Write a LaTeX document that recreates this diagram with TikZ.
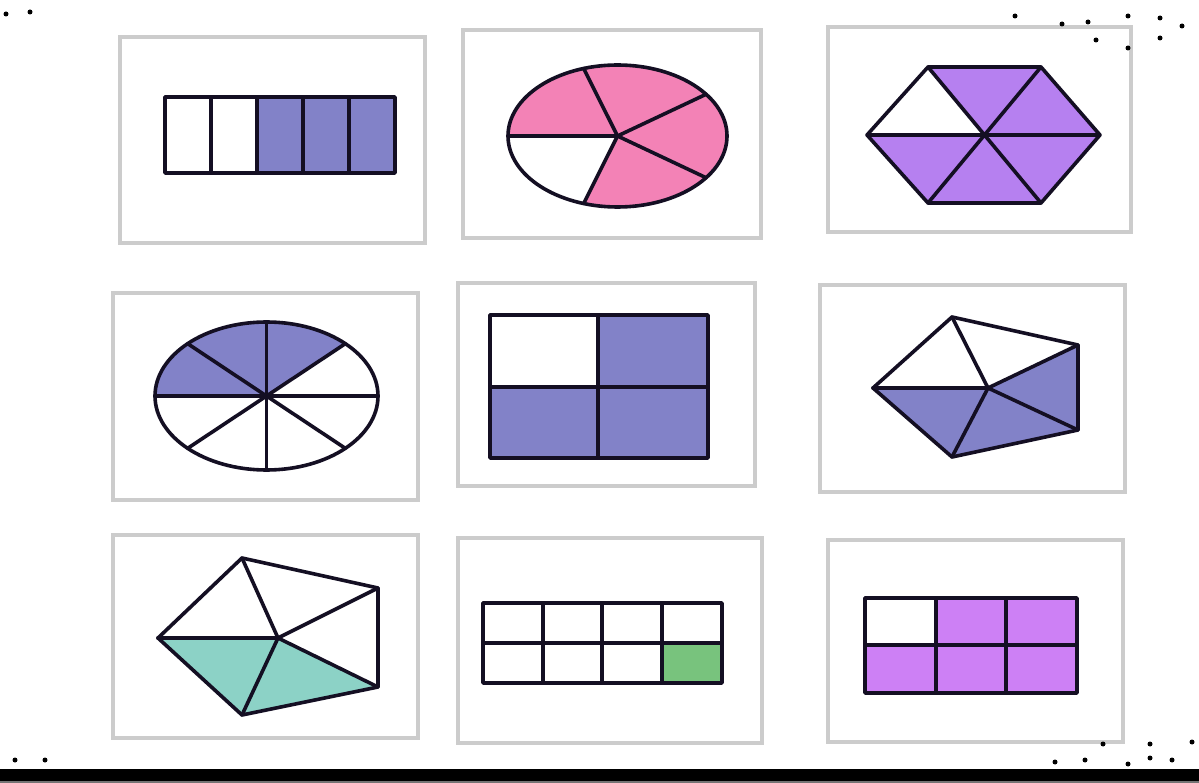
\documentclass[tikz,border=0pt]{standalone}
\usetikzlibrary{calc}
\definecolor{fblue}{RGB}{130,130,200}
\definecolor{fpink}{RGB}{243,130,182}
\definecolor{fpurple}{RGB}{182,128,240}
\definecolor{fmagenta}{RGB}{205,128,245}
\definecolor{fteal}{RGB}{140,210,198}
\definecolor{fgreen}{RGB}{120,195,125}
\definecolor{fline}{RGB}{20,15,35}
\begin{document}
\begin{tikzpicture}[x=1pt,y=-1pt,
  frame/.style={draw=black!20,line width=3.5pt},
  edge/.style={draw=fline,line width=3.6pt,line join=round,line cap=round},
  speck/.style={fill=black}]
\useasboundingbox (0,0) rectangle (1199,783);
\fill[white] (0,0) rectangle (1199,783);

% frames
\draw[frame] (120,37) rectangle (425,243);
\draw[frame] (463,30) rectangle (761,238);
\draw[frame] (828,27) rectangle (1131,232);
\draw[frame] (113,293) rectangle (418,500);
\draw[frame] (458,283) rectangle (755,486);
\draw[frame] (820,285) rectangle (1125,492);
\draw[frame] (113,535) rectangle (418,738);
\draw[frame] (458,538) rectangle (762,743);
\draw[frame] (828,540) rectangle (1123,742);

% 1: bar of five, three shaded
\fill[fblue] (257,97) rectangle (395,173);
\draw[edge] (165,97) rectangle (395,173);
\foreach \x in {211,257,303,349} \draw[edge] (\x,97) -- (\x,173);

% 2: ellipse in five, four shaded
\coordinate (c2) at (617.5,136);
\fill[fpink] (c2) ellipse[x radius=109.5,y radius=71];
\fill[white] (c2) -- ($(c2)+(108:109.5 and 71)$) arc[start angle=108,end angle=180,x radius=109.5,y radius=71] -- cycle;
\foreach \a in {180,108,36,-36,-108} \draw[edge] (c2) -- ($(c2)+(\a:109.5 and 71)$);
\draw[edge] (c2) ellipse[x radius=109.5,y radius=71];

% 3: hexagon in six, five shaded
\coordinate (hL) at (867,135); \coordinate (hTL) at (928,67); \coordinate (hTR) at (1041,67);
\coordinate (hR) at (1100,135); \coordinate (hBR) at (1041,203); \coordinate (hBL) at (928,203);
\coordinate (hC) at (984,135);
\fill[fpurple] (hL) -- (hTL) -- (hTR) -- (hR) -- (hBR) -- (hBL) -- cycle;
\fill[white] (hL) -- (hTL) -- (hC) -- cycle;
\draw[edge] (hL) -- (hR) (hTL) -- (hBR) (hTR) -- (hBL);
\draw[edge] (hL) -- (hTL) -- (hTR) -- (hR) -- (hBR) -- (hBL) -- cycle;

% 4: ellipse in eight, three shaded
\coordinate (c4) at (266.5,396);
\fill[fblue] (c4) -- ($(c4)+(-180:111.5 and 74)$) arc[start angle=-180,end angle=-45,x radius=111.5,y radius=74] -- cycle;
\foreach \a in {0,45,...,315} \draw[edge] (c4) -- ($(c4)+(\a:111.5 and 74)$);
\draw[edge] (c4) ellipse[x radius=111.5,y radius=74];

% 5: rectangle in four, three shaded
\fill[fblue] (490,315) rectangle (708,458);
\fill[white] (490,315) rectangle (598,387);
\draw[edge] (490,315) rectangle (708,458);
\draw[edge] (598,315) -- (598,458) (490,387) -- (708,387);

% 6: pentagon in five, three shaded
\coordinate (pL) at (873,388); \coordinate (pT) at (952,317); \coordinate (pRT) at (1078,345);
\coordinate (pRB) at (1078,430); \coordinate (pB) at (952,457); \coordinate (pC) at (988,388);
\fill[fblue] (pL) -- (pC) -- (pRT) -- (pRB) -- (pB) -- cycle;
\foreach \v in {pL,pT,pRT,pRB,pB} \draw[edge] (pC) -- (\v);
\draw[edge] (pL) -- (pT) -- (pRT) -- (pRB) -- (pB) -- cycle;

% 7: pentagon in five, two shaded
\coordinate (qL) at (158,638); \coordinate (qT) at (242,558); \coordinate (qRT) at (378,588);
\coordinate (qRB) at (378,687); \coordinate (qB) at (242,715); \coordinate (qC) at (278,638);
\fill[fteal] (qL) -- (qC) -- (qRB) -- (qB) -- cycle;
\foreach \v in {qL,qT,qRT,qRB,qB} \draw[edge] (qC) -- (\v);
\draw[edge] (qL) -- (qT) -- (qRT) -- (qRB) -- (qB) -- cycle;

% 8: grid of eight, one shaded
\fill[fgreen] (662,643) rectangle (722,683);
\draw[edge] (483,603) rectangle (722,683);
\foreach \x in {543,602,662} \draw[edge] (\x,603) -- (\x,683);
\draw[edge] (483,643) -- (722,643);

% 9: grid of six, five shaded
\fill[fmagenta] (865,598) rectangle (1077,693);
\fill[white] (865,598) rectangle (936,645);
\draw[edge] (865,598) rectangle (1077,693);
\foreach \x in {936,1006} \draw[edge] (\x,598) -- (\x,693);
\draw[edge] (865,645) -- (1077,645);

% bottom band
\fill[black] (0,769) rectangle (1199,781);
\fill[black!55] (0,781) rectangle (1199,783);

% specks
\foreach \p in {(6,14),(30,12),(1015,16),(1062,24),(1088,22),(1128,16),(1160,18),(1182,26),(1096,40),(1128,48),(1160,38),
  (15,760),(45,760),(1103,744),(1150,744),(1055,762),(1085,760),(1128,764),(1150,758),(1172,760),(1192,742)}
  \fill[speck] \p circle[radius=2.5];
\end{tikzpicture}
\end{document}
